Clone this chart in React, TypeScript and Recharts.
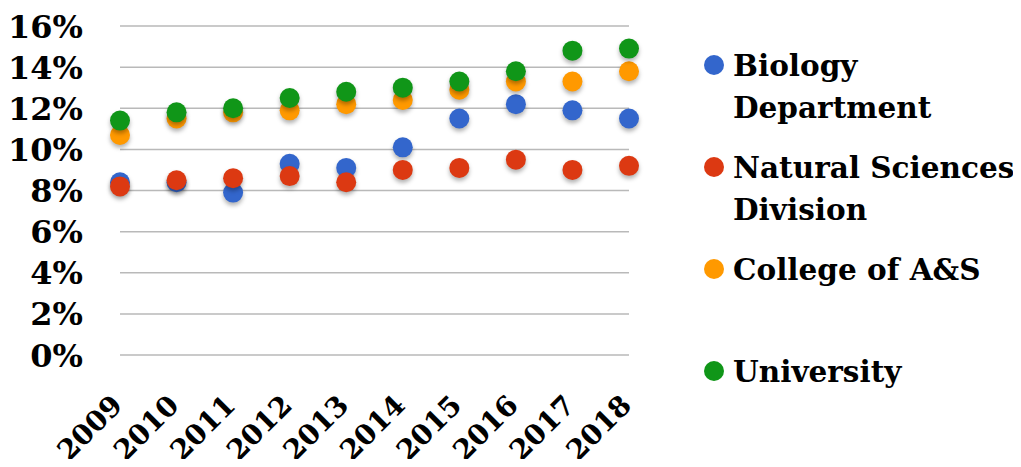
import { ScatterChart, Scatter, XAxis, YAxis, CartesianGrid, Legend } from 'recharts'

const years = [2009, 2010, 2011, 2012, 2013, 2014, 2015, 2016, 2017, 2018]

const biology = [8.4, 8.4, 7.9, 9.3, 9.1, 10.1, 11.5, 12.2, 11.9, 11.5]
const naturalSciences = [8.2, 8.5, 8.6, 8.7, 8.4, 9.0, 9.1, 9.5, 9.0, 9.2]
const college = [10.7, 11.5, 11.8, 11.9, 12.2, 12.4, 12.9, 13.3, 13.3, 13.8]
const university = [11.4, 11.8, 12.0, 12.5, 12.8, 13.0, 13.3, 13.8, 14.8, 14.9]

const yTicks = [0, 2, 4, 6, 8, 10, 12, 14, 16]

const seriesNames = ['Biology\nDepartment', 'Natural Sciences\nDivision', 'College of A&S', 'University']
const seriesColors = ['#3366cc', '#dc3912', '#ff9900', '#109618']
const seriesValues = [biology, naturalSciences, college, university]

const FONT = '"DejaVu Serif", serif'

const toPoints = (values: number[]) => years.map((year, i) => ({ year, value: values[i] }))

const Dot = (props: any) => {
  const { cx, cy, fill } = props
  return (
    <circle
      cx={cx}
      cy={cy}
      r={10}
      fill={fill}
      style={{ filter: 'drop-shadow(0px 3px 2px rgba(0,0,0,0.3))' }}
    />
  )
}

const YTick = ({ x, y, payload }: any) => (
  <text x={x} y={y} dy="0.36em" textAnchor="end" fontFamily={FONT} fontWeight="bold" fontSize={32} fill="#000">
    {payload.value}%
  </text>
)

// year labels run up and to the right, ending just past their tick
const XTick = ({ x, y, payload }: any) => (
  <text
    x={x + 4}
    y={y + 44}
    textAnchor="end"
    transform={`rotate(-45, ${x + 4}, ${y + 44})`}
    fontFamily={FONT}
    fontWeight="bold"
    fontSize={28}
    fill="#000"
  >
    {payload.value}
  </text>
)

// legend drawn in series order, marker sitting on the first text line
const LegendContent = () => (
  <div style={{ fontFamily: FONT, fontWeight: 'bold', fontSize: 29.5, color: '#000' }}>
    {seriesNames.map((name, i) => (
      <div key={name} style={{ display: 'flex', alignItems: 'flex-start', height: 102 }}>
        <span
          style={{
            width: 20,
            height: 20,
            borderRadius: 10,
            background: seriesColors[i],
            marginTop: 10,
            marginRight: 9,
            flexShrink: 0,
          }}
        />
        <span style={{ whiteSpace: 'pre-line', lineHeight: '42px' }}>{name}</span>
      </div>
    ))}
  </div>
)

export default function App() {
  return (
    <div style={{ margin: -8, background: '#fff', width: 1021, height: 467 }}>
      <ScatterChart width={1021} height={467} margin={{ top: 26, right: 75, bottom: 0, left: 0 }}>
        <CartesianGrid vertical={false} stroke="#b9b9b9" strokeWidth={1.5} />
        <XAxis
          type="number"
          dataKey="year"
          domain={[2009, 2018]}
          ticks={years}
          axisLine={false}
          tickLine={false}
          height={112}
          tick={<XTick />}
          interval={0}
        />
        <YAxis
          type="number"
          dataKey="value"
          domain={[0, 16]}
          ticks={yTicks}
          axisLine={false}
          tickLine={false}
          tickSize={0}
          tickMargin={37}
          width={120}
          tick={<YTick />}
          interval={0}
        />
        <Legend
          layout="vertical"
          verticalAlign="top"
          align="right"
          content={<LegendContent />}
          wrapperStyle={{ left: 704, top: 45, width: 317 }}
        />
        {seriesNames.map((name, i) => (
          <Scatter
            key={name}
            name={name}
            data={toPoints(seriesValues[i])}
            fill={seriesColors[i]}
            shape={<Dot />}
            isAnimationActive={false}
          />
        ))}
      </ScatterChart>
    </div>
  )
}
